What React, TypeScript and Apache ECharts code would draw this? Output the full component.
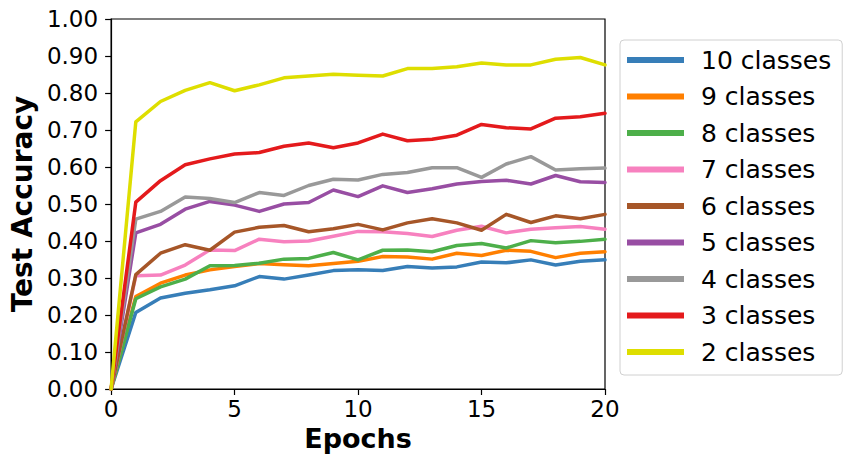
import React, { useEffect, useRef } from "react";
import * as echarts from "echarts";

const epochs = [0, 1, 2, 3, 4, 5, 6, 7, 8, 9, 10, 11, 12, 13, 14, 15, 16, 17, 18, 19, 20];

const classes10 = [0, 0.207, 0.246, 0.259, 0.268, 0.279, 0.304, 0.297, 0.308, 0.320, 0.322, 0.320, 0.331, 0.327, 0.330, 0.343, 0.341, 0.349, 0.335, 0.345, 0.349];
const classes9 = [0, 0.250, 0.286, 0.308, 0.322, 0.331, 0.339, 0.336, 0.333, 0.339, 0.345, 0.358, 0.357, 0.351, 0.367, 0.361, 0.375, 0.372, 0.355, 0.367, 0.371];
const classes8 = [0, 0.244, 0.276, 0.297, 0.333, 0.334, 0.340, 0.351, 0.353, 0.369, 0.349, 0.375, 0.376, 0.371, 0.388, 0.393, 0.381, 0.401, 0.395, 0.399, 0.405];
const classes7 = [0, 0.306, 0.308, 0.335, 0.376, 0.374, 0.405, 0.398, 0.400, 0.413, 0.426, 0.425, 0.420, 0.412, 0.429, 0.440, 0.422, 0.432, 0.436, 0.439, 0.432];
const classes6 = [0, 0.309, 0.367, 0.390, 0.375, 0.424, 0.437, 0.442, 0.425, 0.433, 0.445, 0.430, 0.449, 0.460, 0.449, 0.429, 0.472, 0.450, 0.468, 0.460, 0.472];
const classes5 = [0, 0.422, 0.445, 0.486, 0.507, 0.497, 0.480, 0.500, 0.504, 0.538, 0.520, 0.549, 0.531, 0.541, 0.554, 0.561, 0.564, 0.554, 0.577, 0.560, 0.558];
const classes4 = [0, 0.459, 0.480, 0.519, 0.515, 0.504, 0.531, 0.523, 0.550, 0.567, 0.565, 0.580, 0.585, 0.598, 0.598, 0.572, 0.608, 0.628, 0.592, 0.595, 0.597];
const classes3 = [0, 0.505, 0.563, 0.606, 0.622, 0.635, 0.639, 0.656, 0.665, 0.652, 0.665, 0.689, 0.671, 0.675, 0.686, 0.715, 0.706, 0.703, 0.732, 0.736, 0.745];
const classes2 = [0, 0.722, 0.777, 0.807, 0.828, 0.806, 0.822, 0.841, 0.846, 0.851, 0.848, 0.846, 0.866, 0.866, 0.871, 0.881, 0.876, 0.876, 0.891, 0.896, 0.876];

const seriesNames = ["10 classes", "9 classes", "8 classes", "7 classes", "6 classes", "5 classes", "4 classes", "3 classes", "2 classes"];
const seriesValues = [classes10, classes9, classes8, classes7, classes6, classes5, classes4, classes3, classes2];
const seriesColors = ["#377eb8", "#ff7f00", "#4daf4a", "#f781bf", "#a65628", "#984ea3", "#999999", "#e41a1c", "#dede00"];

const xTitle = "Epochs";
const yTitle = "Test Accuracy";
const FONT = "DejaVu Sans";

export default function App() {
  const ref = useRef<HTMLDivElement>(null);

  useEffect(() => {
    if (!ref.current) return;
    const chart = echarts.init(ref.current, undefined, { renderer: "svg" });
    chart.setOption({
      animation: false,
      backgroundColor: "#ffffff",
      grid: {
        left: 110,
        top: 19,
        right: 245,
        bottom: 77,
        show: true,
        borderColor: "#000000",
        borderWidth: 1.2,
        backgroundColor: "transparent",
      },
      legend: {
        orient: "vertical",
        left: 620,
        top: 40,
        padding: [7, 11, 10, 7],
        itemWidth: 57,
        itemHeight: 6,
        itemGap: 10.5,
        icon: "rect",
        backgroundColor: "#ffffff",
        borderColor: "#d0d0d0",
        borderWidth: 1,
        borderRadius: 4,
        data: seriesNames,
        textStyle: {
          fontFamily: FONT,
          fontSize: 25,
          color: "#000000",
          lineHeight: 26,
          padding: [0, 0, 0, 12],
        },
      },
      xAxis: {
        type: "value",
        min: 0,
        max: 20,
        interval: 5,
        name: xTitle,
        nameLocation: "middle",
        nameGap: 34,
        nameTextStyle: { fontFamily: FONT, fontSize: 27, fontWeight: "bold", color: "#000000" },
        axisLine: { show: true, onZero: false, lineStyle: { color: "#000000", width: 1.2 } },
        axisTick: { show: true, length: 6, lineStyle: { color: "#000000", width: 1.2 } },
        axisLabel: { fontFamily: FONT, fontSize: 23, color: "#000000", margin: 8 },
        splitLine: { show: false },
      },
      yAxis: {
        type: "value",
        min: 0,
        max: 1,
        interval: 0.1,
        name: yTitle,
        nameLocation: "middle",
        nameGap: 74,
        nameTextStyle: { fontFamily: FONT, fontSize: 28, fontWeight: "bold", color: "#000000" },
        axisLine: { show: true, onZero: false, lineStyle: { color: "#000000", width: 1.2 } },
        axisTick: { show: true, length: 6, lineStyle: { color: "#000000", width: 1.2 } },
        axisLabel: {
          fontFamily: FONT,
          fontSize: 23,
          color: "#000000",
          margin: 13,
          formatter: (v: number) => v.toFixed(2),
        },
        splitLine: { show: false },
      },
      series: seriesNames.map((name, i) => ({
        name,
        type: "line",
        data: epochs.map((e, j) => [e, seriesValues[i][j]]),
        showSymbol: false,
        symbol: "none",
        color: seriesColors[i],
        lineStyle: { width: 3.5, color: seriesColors[i], join: "round", cap: "round" },
        itemStyle: { color: seriesColors[i] },
        z: 2 + i,
      })),
    });
    return () => chart.dispose();
  }, []);

  return (
    <div
      ref={ref}
      style={{ position: "fixed", left: 0, top: 0, width: 850, height: 466, background: "#fff" }}
    />
  );
}
